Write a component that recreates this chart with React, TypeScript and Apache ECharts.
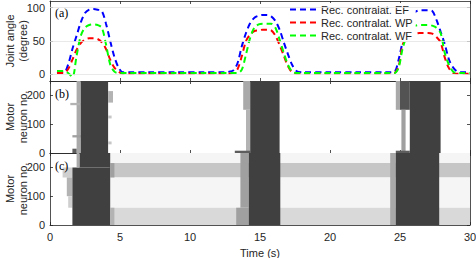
import React, { useEffect, useRef } from "react";
import * as echarts from "echarts";

// ---- Joint angle data (panel a) ----
const timeS = [
  0.5, 1.0, 1.3, 1.6, 1.9, 2.2, 2.5, 2.8, 3.1, 3.4, 3.7, 4.0, 4.3, 4.6, 4.9, 5.2, 5.6,
  7, 9, 11, 12.5,
  12.8, 13.1, 13.4, 13.7, 14.0, 14.3, 14.6, 14.9, 15.2, 15.5, 15.8, 16.1, 16.4, 16.7, 17.0, 17.3, 17.6, 18.0,
  20, 22, 24,
  24.6, 24.9, 25.2, 25.5, 25.8, 26.1, 26.4, 26.7, 27.0, 27.3, 27.6, 27.9, 28.2, 28.5, 28.8, 29.1, 29.5, 30,
];
const angleEF = [
  4, 3, 15, 38, 58, 78, 92, 97, 98, 97, 95, 76, 50, 26, 10, 3, 3,
  3, 3, 3, 3,
  4, 6, 17, 42, 62, 77, 85, 88, 89, 89, 87, 80, 67, 48, 30, 14, 5, 3,
  3, 3, 3,
  4, 22, 50, 72, 87, 94, 96, 96, 96, 95, 82, 64, 45, 22, 10, 4, 3, 3,
];
const angleWP = [
  2, 2, 8, 22, 37, 47, 52, 54, 54, 53, 48, 38, 22, 10, 4, 1, 1,
  1, 1, 1, 1,
  1, 2, 8, 27, 50, 60, 65, 66, 67, 67, 66, 58, 44, 28, 12, 3, 1, 1,
  1, 1, 1,
  2, 12, 45, 55, 59, 61, 62, 62, 62, 61, 56, 48, 25, 9, 2, 1, 1, 1,
];
const angleWF = [
  5, 5, 2, -4, 28, 58, 70, 74, 75, 74, 70, 45, 15, 4, 2, 2, 2,
  2, 2, 2, 2,
  2, 2, 2, 7, 30, 55, 70, 75, 76, 76, 76, 70, 52, 32, 14, 4, 2, 2,
  2, 2, 2,
  2, 10, 40, 58, 70, 73, 74, 74, 74, 73, 70, 62, 32, 14, 4, 2, 2, 2,
];
const seriesNames = ["Rec. contralat. EF", "Rec. contralat. WP", "Rec. contralat. WF"];
const angleTicks = [0, 50, 100];
const neuronTicks = [0, 100, 200];
const panelLabels = ["(a)", "(b)", "(c)"];
const yTitles = [
  ["Joint angle", "(degree)"],
  ["Motor", "neuron no."],
  ["Motor", "neuron no."],
];

// ---- Raster activity blocks: [tStart, tEnd, neuronLow, neuronHigh, firingDensity] ----
const rasterB = [
  [1.9, 2.2, 0, 250, 0.45],
  [1.45, 2.2, 166, 174, 0.4],
  [1.6, 2.2, 54, 62, 0.5],
  [1.6, 1.9, 0, 15, 0.85],
  [2.2, 4.15, 0, 250, 1],
  [4.15, 4.5, 175, 215, 0.4],
  [4.15, 4.4, 120, 130, 0.3],
  [4.15, 4.4, 30, 40, 0.3],
  [13.8, 14.3, 150, 250, 0.45],
  [14.0, 14.3, 0, 150, 0.4],
  [13.2, 14.3, 0, 8, 0.85],
  [14.3, 16.4, 0, 250, 1],
  [24.7, 25.0, 150, 250, 0.45],
  [25.0, 25.7, 150, 250, 0.9],
  [25.1, 25.4, 0, 150, 0.5],
  [24.7, 25.7, 0, 8, 0.85],
  [25.7, 27.9, 0, 250, 1],
];
const rasterC = [
  [4.2, 30, 215, 250, 0.05],
  [4.2, 30, 165, 215, 0.3],
  [4.2, 30, 60, 165, 0.05],
  [4.2, 30, 0, 60, 0.2],
  [0.9, 1.6, 165, 200, 0.25],
  [1.2, 1.6, 100, 165, 0.4],
  [1.3, 1.6, 60, 100, 0.25],
  [1.6, 4.3, 0, 200, 1],
  [2.1, 4.3, 200, 250, 1],
  [1.9, 2.1, 200, 250, 0.45],
  [4.3, 4.6, 165, 215, 0.5],
  [4.3, 4.6, 0, 60, 0.4],
  [13.3, 14.2, 0, 60, 0.5],
  [13.6, 14.2, 60, 250, 0.5],
  [14.2, 16.45, 0, 250, 1],
  [24.3, 24.7, 0, 250, 0.45],
  [24.7, 27.8, 0, 250, 1],
];

const AX = "#262626";
const FONT = "Liberation Sans";

export default function App() {
  const ref = useRef<HTMLDivElement>(null);
  useEffect(() => {
    if (!ref.current) return;
    const chart = echarts.init(ref.current, undefined, { renderer: "svg" });
    const grids = [
      { left: 50, right: 6, top: 1, height: 80, outerBoundsMode: "none", containLabel: false },
      { left: 50, right: 6, top: 81, height: 72, outerBoundsMode: "none", containLabel: false },
      { left: 50, right: 6, top: 153, height: 72, outerBoundsMode: "none", containLabel: false },
    ];
    const lineStyle = { color: AX, width: 0.8 };
    const xAxes: any[] = [];
    const yAxes: any[] = [];
    grids.forEach((_, i) => {
      ["bottom", "top"].forEach((pos) => {
        xAxes.push({
          type: "value",
          gridIndex: i,
          position: pos,
          min: 0,
          max: 30,
          interval: 5,
          axisLine: { show: true, onZero: false, lineStyle },
          axisTick: { show: true, inside: true, length: 3, lineStyle },
          axisLabel: {
            show: i === 2 && pos === "bottom",
            color: AX,
            fontSize: 11,
            fontFamily: FONT,
            margin: 6,
          },
          splitLine: { show: false },
          name: i === 2 && pos === "bottom" ? "Time (s)" : "",
          nameLocation: "middle",
          nameGap: 22,
          nameTextStyle: { color: AX, fontSize: 11, fontFamily: FONT },
        });
      });
      const isA = i === 0;
      const ticks = isA ? angleTicks : neuronTicks;
      ["left", "right"].forEach((pos) => {
        yAxes.push({
          type: "value",
          gridIndex: i,
          position: pos,
          min: isA ? -10 : 0,
          max: isA ? 110 : 250,
          axisLine: { show: true, onZero: false, lineStyle },
          axisTick: { show: true, inside: true, length: 3, lineStyle, customValues: ticks },
          axisLabel: {
            show: pos === "left",
            customValues: ticks,
            color: AX,
            fontSize: 11,
            fontFamily: FONT,
            margin: 5,
          },
          splitLine: { show: false },
        });
      });
    });

    const colors = ["#0000ff", "#ff0000", "#00ff00"];
    const values = [angleEF, angleWP, angleWF];
    const lineSeries = seriesNames.map((name, k) => ({
      name,
      type: "line",
      xAxisIndex: 0,
      yAxisIndex: 0,
      symbol: "none",
      smooth: 0.3,
      z: 3,
      data: timeS.map((t, j) => [t, values[k][j]]),
      lineStyle: { color: colors[k], width: 2, type: [6, 4] },
      itemStyle: { color: colors[k] },
    }));

    const renderRaster = (params: any, api: any) => {
      const p0 = api.coord([api.value(0), api.value(3)]);
      const p1 = api.coord([api.value(1), api.value(2)]);
      const d = api.value(4);
      const g = Math.round(255 - (255 - 64) * d);
      const cs = params.coordSys;
      const shape = echarts.graphic.clipRectByRect(
        { x: p0[0], y: p0[1], width: p1[0] - p0[0], height: p1[1] - p0[1] },
        { x: cs.x, y: cs.y, width: cs.width, height: cs.height }
      );
      return shape && { type: "rect", shape, style: { fill: `rgb(${g},${g},${g})` } };
    };

    const centersY = [41, 117, 189];
    const titleGraphics: any[] = [];
    yTitles.forEach((lines, i) => {
      lines.forEach((txt, j) => {
        titleGraphics.push({
          type: "text",
          x: j === 0 ? 10 : 23,
          y: centersY[i],
          rotation: Math.PI / 2,
          style: {
            text: txt,
            fontSize: 11,
            fontFamily: FONT,
            fill: AX,
            align: "center",
            verticalAlign: "middle",
          },
        });
      });
    });

    chart.setOption({
      animation: false,
      grid: grids,
      xAxis: xAxes,
      yAxis: yAxes,
      legend: {
        data: seriesNames,
        orient: "vertical",
        left: 286,
        top: 3,
        itemWidth: 26,
        itemHeight: 10,
        itemGap: 2,
        padding: [1, 3],
        backgroundColor: "#ffffff",
        itemStyle: { opacity: 0 },
        textStyle: { color: AX, fontSize: 11, fontFamily: FONT },
      },
      graphic: [
        ...panelLabels.map((t, i) => ({
          type: "text",
          left: 55,
          top: [7, 88, 160][i],
          style: { text: t, fontSize: 12, fontFamily: "Liberation Serif", fill: "#000" },
          z: 10,
        })),
        ...titleGraphics,
      ],
      series: [
        {
          type: "line",
          xAxisIndex: 0,
          yAxisIndex: 0,
          data: [],
          z: 1,
          silent: true,
          markLine: {
            silent: true,
            symbol: ["none", "none"],
            label: { show: false },
            lineStyle: { color: "#e3e3e3", type: "solid", width: 0.8 },
            data: angleTicks.map((v) => ({ yAxis: v })),
          },
        },
        ...lineSeries,
        {
          type: "custom",
          xAxisIndex: 2,
          yAxisIndex: 2,
          renderItem: renderRaster,
          encode: { x: [0, 1], y: [2, 3] },
          data: rasterB,
        },
        {
          type: "custom",
          xAxisIndex: 4,
          yAxisIndex: 4,
          renderItem: renderRaster,
          encode: { x: [0, 1], y: [2, 3] },
          data: rasterC,
        },
      ],
    });
    return () => chart.dispose();
  }, []);
  return <div ref={ref} style={{ width: 476, height: 258, position: "absolute", left: 0, top: 0 }} />;
}
